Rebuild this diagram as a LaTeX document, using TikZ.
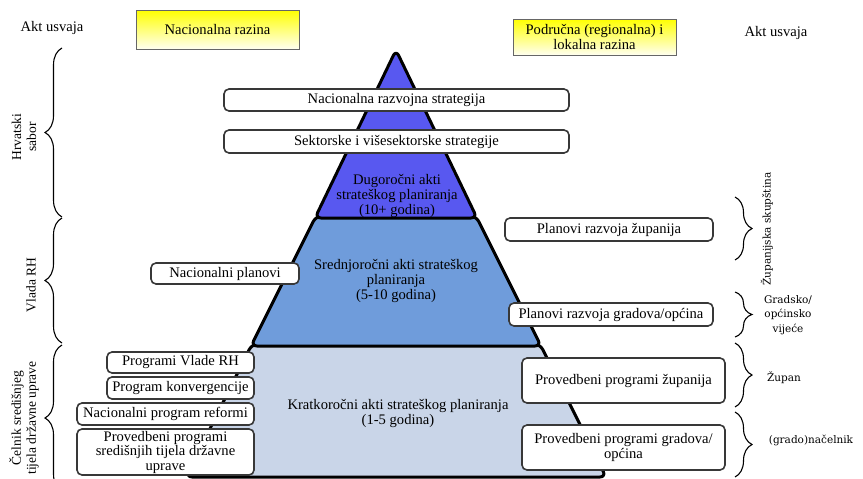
\documentclass[tikz,border=0pt]{standalone}
\usepackage{fontspec}
\setmainfont{Liberation Serif}
\newfontfamily\tijelofont{DejaVu Serif}
\usetikzlibrary{decorations.pathreplacing}

\tikzset{
  planbox/.style={draw=black!78, line width=1.6pt, rounded corners=5pt, fill=white,
    inner sep=0pt, align=center, font=\fontsize{14.6}{14.5}\selectfont},
  razina/.style={draw=black!60, line width=0.9pt, top color=yellow, bottom color=yellow!6,
    inner sep=0pt, align=center, font=\fontsize{14.6}{14.5}\selectfont},
  tier/.style={draw=black, line width=3pt, rounded corners=6pt, line join=round},
  tiertekst/.style={align=center, font=\fontsize{14.6}{15}\selectfont},
  akt/.style={align=center, rotate=90, font=\fontsize{13.5}{15}\selectfont},
  tijelo/.style={align=center, font=\tijelofont\fontsize{10.5}{14.5}\selectfont},
  zagrada/.style={decorate, decoration={brace, amplitude=17pt}, line width=1.1pt},
}

\definecolor{dugo}{HTML}{5858F0}
\definecolor{sredn}{HTML}{6F9CDB}
\definecolor{kratk}{HTML}{C9D5E8}

\begin{document}
\begin{tikzpicture}[x=1pt, y=-1pt]
\useasboundingbox (0,0) rectangle (863,479);

% piramida
\filldraw[tier, fill=kratk] (252,344) -- (540,344) -- (606,477) -- (186,477) -- cycle;
\filldraw[tier, fill=sredn] (316,216) -- (476,216) -- (541,346) -- (251,346) -- cycle;
\filldraw[tier, fill=dugo] (396,50) -- (477,218) -- (315,218) -- cycle;
\node[tiertekst] (dug) at (397,196) {Dugoročni akti\\strateškog planiranja\\(10+ godina)};
\node[tiertekst] (sred) at (396,281) {Srednjoročni akti strateškog\\planiranja\\(5-10 godina)};
\node[tiertekst] (krat) at (398,413) {Kratkoročni akti strateškog planiranja\\(1-5 godina)};

% razine
\node[font=\fontsize{14.6}{15}\selectfont] (aktL) at (52,28) {Akt usvaja};
\node[font=\fontsize{14.6}{15}\selectfont] (aktD) at (776,33) {Akt usvaja};
\node[razina, minimum width=163pt, minimum height=39pt] (nac) at (217.5,29.5) {Nacionalna razina};
\node[razina, minimum width=163pt, minimum height=36pt] (lok) at (594.5,37) {Područna (regionalna) i\\lokalna razina};

% dokumenti
\node[planbox, minimum width=345pt, minimum height=22pt] (nrs) at (396.5,100) {Nacionalna razvojna strategija};
\node[planbox, minimum width=345pt, minimum height=23pt] (sis) at (396.5,141.5) {Sektorske i višesektorske strategije};
\node[planbox, minimum width=208pt, minimum height=23pt] (prz) at (609,229.5) {Planovi razvoja županija};
\node[planbox, minimum width=148pt, minimum height=21pt] (np) at (225,273.5) {Nacionalni planovi};
\node[planbox, minimum width=204pt, minimum height=23pt] (prgo) at (611,314.5) {Planovi razvoja gradova/općina};
\node[planbox, minimum width=147pt, minimum height=21pt] (pvrh) at (180.5,362.5) {Programi Vlade RH};
\node[planbox, minimum width=147pt, minimum height=22pt] (pk) at (180.5,388) {Program konvergencije};
\node[planbox, minimum width=177pt, minimum height=22pt] (npr) at (165.5,414) {Nacionalni program reformi};
\node[planbox, minimum width=177pt, minimum height=46pt] (ppsu) at (165.5,452) {Provedbeni programi\\središnjih tijela državne\\uprave};
\node[planbox, minimum width=203pt, minimum height=45pt] (ppz) at (623.5,380.5) {Provedbeni programi županija};
\node[planbox, minimum width=203pt, minimum height=45pt] (ppgo) at (623.5,447.5) {Provedbeni programi gradova/\\općina};

% zagrade lijevo
\draw[zagrada] (62,217) -- (62,48);
\draw[zagrada] (62,343) -- (62,218);
\draw[zagrada] (62,491) -- (62,345);
\node[akt] (sabor) at (24,137) {Hrvatski\\sabor};
\node[akt] (vlada) at (31,285) {Vlada RH};
\node[akt] (celnik) at (24,418) {Čelnik središnjeg\\tijela državne uprave};

% zagrade desno
\draw[zagrada] (735,197) -- (735,260);
\draw[zagrada] (735,292) -- (735,337);
\draw[zagrada] (735,343) -- (735,407);
\draw[zagrada] (735,412) -- (735,477);
\node[tijelo, rotate=90] (skup) at (767,229) {Županijska skupština};
\node[tijelo] (vijece) at (788,315) {Gradsko/\\općinsko\\vijeće};
\node[tijelo] (zupan) at (784,378) {Župan};
\node[tijelo] (nacel) at (811,440) {(grado)načelnik};
\end{tikzpicture}
\end{document}
